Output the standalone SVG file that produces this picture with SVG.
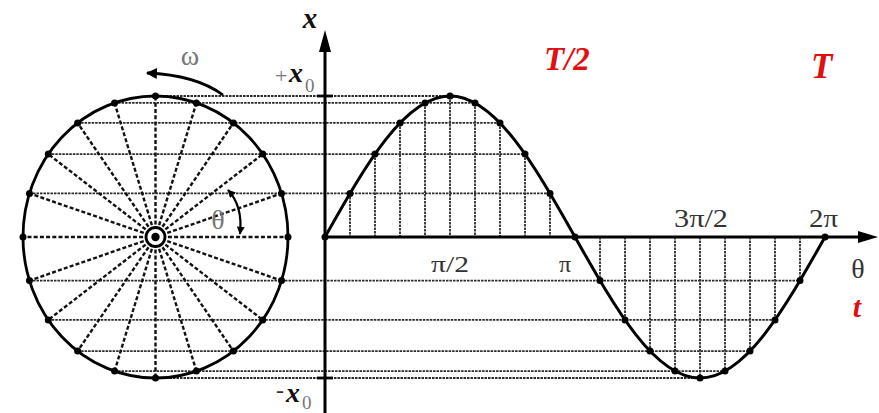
<svg xmlns="http://www.w3.org/2000/svg" width="879" height="413" viewBox="0 0 879 413">
<style>
.grid{stroke:#2a2a2a;stroke-width:1.8;stroke-dasharray:2.5 1;fill:none}
.radial{stroke:#111;stroke-width:2.4;stroke-dasharray:4 2.2;fill:none}
.thick{stroke:#000;stroke-width:3;fill:none}
.dot{fill:#000}
.lbl{font-family:"Liberation Serif","Times New Roman",serif;fill:#333}
.grey{font-family:"Liberation Serif","Times New Roman",serif;fill:#777}
.var{font-family:"Liberation Serif","Times New Roman",serif;font-weight:bold;font-style:italic;fill:#111}
.red{font-family:"Liberation Serif","Times New Roman",serif;font-weight:bold;font-style:italic;fill:#e01010}
</style>
<defs>
<marker id="ahW" viewBox="0 0 10 10" refX="9" refY="5" markerWidth="15" markerHeight="11" markerUnits="userSpaceOnUse" orient="auto-start-reverse"><path d="M0,0 L10,5 L0,10 z" fill="#000"/></marker>
<marker id="ahT" viewBox="0 0 10 10" refX="9" refY="5" markerWidth="10" markerHeight="8" markerUnits="userSpaceOnUse" orient="auto-start-reverse"><path d="M0,0 L10,5 L0,10 z" fill="#000"/></marker>
</defs>
<rect width="879" height="413" fill="#fff"/>

<g id="projection-lines">
<line class="grid" x1="155.5" y1="96" x2="450" y2="96"/>
<line class="grid" x1="114.56" y1="102.9" x2="475" y2="102.9"/>
<line class="grid" x1="77.62" y1="122.93" x2="500" y2="122.93"/>
<line class="grid" x1="48.31" y1="154.12" x2="525" y2="154.12"/>
<line class="grid" x1="29.48" y1="193.43" x2="550" y2="193.43"/>
<line class="grid" x1="29.48" y1="280.57" x2="800" y2="280.57"/>
<line class="grid" x1="48.31" y1="319.88" x2="775" y2="319.88"/>
<line class="grid" x1="77.62" y1="351.07" x2="750" y2="351.07"/>
<line class="grid" x1="114.56" y1="371.1" x2="725" y2="371.1"/>
<line class="grid" x1="155.5" y1="378" x2="700" y2="378"/>
<line class="grid" x1="350" y1="193.43" x2="350" y2="237"/>
<line class="grid" x1="375" y1="154.12" x2="375" y2="237"/>
<line class="grid" x1="400" y1="122.93" x2="400" y2="237"/>
<line class="grid" x1="425" y1="102.9" x2="425" y2="237"/>
<line class="grid" x1="450" y1="96" x2="450" y2="237"/>
<line class="grid" x1="475" y1="102.9" x2="475" y2="237"/>
<line class="grid" x1="500" y1="122.93" x2="500" y2="237"/>
<line class="grid" x1="525" y1="154.12" x2="525" y2="237"/>
<line class="grid" x1="550" y1="193.43" x2="550" y2="237"/>
<line class="grid" x1="600" y1="237" x2="600" y2="280.57"/>
<line class="grid" x1="625" y1="237" x2="625" y2="319.88"/>
<line class="grid" x1="650" y1="237" x2="650" y2="351.07"/>
<line class="grid" x1="675" y1="237" x2="675" y2="371.1"/>
<line class="grid" x1="700" y1="237" x2="700" y2="378"/>
<line class="grid" x1="725" y1="237" x2="725" y2="371.1"/>
<line class="grid" x1="750" y1="237" x2="750" y2="351.07"/>
<line class="grid" x1="775" y1="237" x2="775" y2="319.88"/>
<line class="grid" x1="800" y1="237" x2="800" y2="280.57"/>
</g>

<g id="phasor-circle">
<g class="radial">
<line x1="155.5" y1="237" x2="288" y2="237"/>
<line x1="155.5" y1="237" x2="281.52" y2="193.43"/>
<line x1="155.5" y1="237" x2="262.69" y2="154.12"/>
<line x1="155.5" y1="237" x2="233.38" y2="122.93"/>
<line x1="155.5" y1="237" x2="196.44" y2="102.9"/>
<line x1="155.5" y1="237" x2="155.5" y2="96"/>
<line x1="155.5" y1="237" x2="114.56" y2="102.9"/>
<line x1="155.5" y1="237" x2="77.62" y2="122.93"/>
<line x1="155.5" y1="237" x2="48.31" y2="154.12"/>
<line x1="155.5" y1="237" x2="29.48" y2="193.43"/>
<line x1="155.5" y1="237" x2="23" y2="237"/>
<line x1="155.5" y1="237" x2="29.48" y2="280.57"/>
<line x1="155.5" y1="237" x2="48.31" y2="319.88"/>
<line x1="155.5" y1="237" x2="77.62" y2="351.07"/>
<line x1="155.5" y1="237" x2="114.56" y2="371.1"/>
<line x1="155.5" y1="237" x2="155.5" y2="378"/>
<line x1="155.5" y1="237" x2="196.44" y2="371.1"/>
<line x1="155.5" y1="237" x2="233.38" y2="351.07"/>
<line x1="155.5" y1="237" x2="262.69" y2="319.88"/>
<line x1="155.5" y1="237" x2="281.52" y2="280.57"/>
</g>
<ellipse cx="155.5" cy="237" rx="132.5" ry="141" fill="none" stroke="#000" stroke-width="2.8"/>
<g class="dot">
<circle cx="288" cy="237" r="3.5"/><circle cx="281.52" cy="193.43" r="3.5"/><circle cx="262.69" cy="154.12" r="3.5"/><circle cx="233.38" cy="122.93" r="3.5"/><circle cx="196.44" cy="102.9" r="3.5"/><circle cx="155.5" cy="96" r="3.5"/><circle cx="114.56" cy="102.9" r="3.5"/><circle cx="77.62" cy="122.93" r="3.5"/><circle cx="48.31" cy="154.12" r="3.5"/><circle cx="29.48" cy="193.43" r="3.5"/><circle cx="23" cy="237" r="3.5"/><circle cx="29.48" cy="280.57" r="3.5"/><circle cx="48.31" cy="319.88" r="3.5"/><circle cx="77.62" cy="351.07" r="3.5"/><circle cx="114.56" cy="371.1" r="3.5"/><circle cx="155.5" cy="378" r="3.5"/><circle cx="196.44" cy="371.1" r="3.5"/><circle cx="233.38" cy="351.07" r="3.5"/><circle cx="262.69" cy="319.88" r="3.5"/><circle cx="281.52" cy="280.57" r="3.5"/>
</g>
<circle cx="155.5" cy="237" r="9.5" fill="#fff" stroke="#000" stroke-width="2.8"/>
<circle cx="155.5" cy="237" r="4.2" fill="#000"/>
</g>

<g id="arrows">
<path d="M223,95 Q196,75 147,73" fill="none" stroke="#000" stroke-width="2.8" marker-end="url(#ahW)"/>
<path d="M228,190 Q243,206 240,234" fill="none" stroke="#000" stroke-width="2.2" marker-start="url(#ahT)" marker-end="url(#ahT)"/>
</g>

<g id="axes">
<line class="thick" x1="325" y1="413" x2="325" y2="48"/>
<polygon points="325,30 319,52 331,52" fill="#000"/>
<line class="thick" x1="325" y1="237" x2="860" y2="237"/>
<polygon points="878,237 858,231 858,243" fill="#000"/>
<line x1="317" y1="96" x2="333" y2="96" stroke="#000" stroke-width="2.8"/>
<line x1="317" y1="378" x2="333" y2="378" stroke="#000" stroke-width="2.8"/>
</g>

<g id="sine-curve">
<path class="thick" d="M325,237 C365.77,164.77 404.76,96 450,96 C495.24,96 534.23,164.77 575,237 C615.77,309.23 654.76,378 700,378 C745.24,378 784.23,309.23 825,237"/>
<g class="dot">
<circle cx="325" cy="237" r="3.5"/><circle cx="350" cy="193.43" r="3.5"/><circle cx="375" cy="154.12" r="3.5"/><circle cx="400" cy="122.93" r="3.5"/><circle cx="425" cy="102.9" r="3.5"/><circle cx="450" cy="96" r="3.5"/><circle cx="475" cy="102.9" r="3.5"/><circle cx="500" cy="122.93" r="3.5"/><circle cx="525" cy="154.12" r="3.5"/><circle cx="550" cy="193.43" r="3.5"/><circle cx="575" cy="237" r="3.5"/><circle cx="600" cy="280.57" r="3.5"/><circle cx="625" cy="319.88" r="3.5"/><circle cx="650" cy="351.07" r="3.5"/><circle cx="675" cy="371.1" r="3.5"/><circle cx="700" cy="378" r="3.5"/><circle cx="725" cy="371.1" r="3.5"/><circle cx="750" cy="351.07" r="3.5"/><circle cx="775" cy="319.88" r="3.5"/><circle cx="800" cy="280.57" r="3.5"/><circle cx="825" cy="237" r="3.5"/>
</g>
</g>

<g id="labels">
<text class="var" x="310" y="28" font-size="29" text-anchor="middle">x</text>
<text class="grey" x="275" y="83" font-size="22">+</text>
<text class="var" x="289" y="82" font-size="28">x</text>
<text class="grey" x="305" y="92" font-size="19">0</text>
<text class="lbl" x="276" y="398" font-size="24">-</text>
<text class="var" x="286" y="402" font-size="28">x</text>
<text class="grey" x="302" y="409" font-size="19">0</text>
<text class="grey" x="190" y="65" font-size="28" text-anchor="middle">ω</text>
<text class="grey" x="218" y="229" font-size="28" text-anchor="middle">θ</text>
<text class="lbl" x="431" y="272" font-size="24" textLength="38" lengthAdjust="spacingAndGlyphs">π/2</text>
<text class="lbl" x="559" y="272" font-size="24">π</text>
<text class="lbl" x="674" y="227" font-size="26" textLength="54" lengthAdjust="spacingAndGlyphs">3π/2</text>
<text class="lbl" x="809" y="227" font-size="26" textLength="29" lengthAdjust="spacingAndGlyphs">2π</text>
<text class="lbl" x="858" y="278" font-size="28" text-anchor="middle">θ</text>
<text class="red" x="857" y="317" font-size="30" text-anchor="middle">t</text>
<text class="red" x="544" y="70" font-size="33">T/2</text>
<text class="red" x="811" y="78" font-size="35">T</text>
</g>
</svg>
